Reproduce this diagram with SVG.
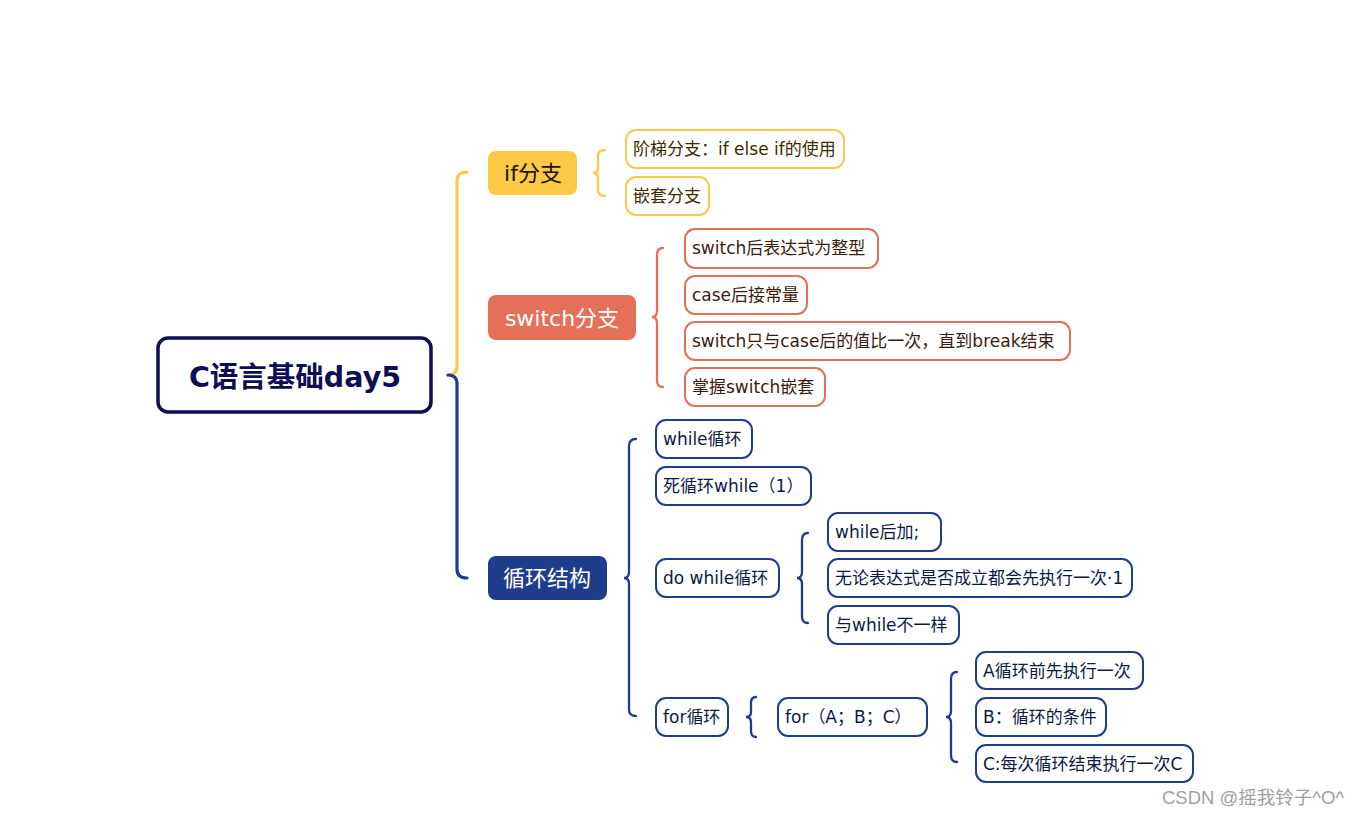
<svg xmlns="http://www.w3.org/2000/svg" width="1363" height="816" viewBox="0 0 1363 816">
<style>
text{font-family:"DejaVu Sans","Noto Sans CJK SC",sans-serif;dominant-baseline:central}
.c{fill:#fff;stroke-width:2}
.y{stroke:#FFC845}.r{stroke:#E5705A}.n{stroke:#1F3D8A}
.ty{fill:#3d2c00;font-size:17px}.tr{fill:#3b1b10;font-size:17px}.tn{fill:#0d1a3f;font-size:17px}
.br{fill:none;stroke-width:2.3;stroke-linecap:round}
.mb{stroke-width:3.2}
.mt{font-size:22px;text-anchor:middle}
</style>
<rect width="1363" height="816" fill="#fff"/>
<g id="connectors">
<path class="br mb" stroke="#FFC845" d="M448 375 Q457 375 457 366 L457 181 Q457 172 467 172"/>
<path class="br mb" stroke="#1F3D8A" d="M448 375 Q457 375 457 384 L457 569 Q457 578 467 578"/>
<path class="br" stroke="#FFC845" d="M605 150 Q598 150 598 156 L598 168 Q598 173 593 173 Q598 173 598 178 L598 190 Q598 196 605 196"/>
<path class="br" stroke="#E5705A" d="M663 248 Q657 248 657 255 L657 311 Q657 317 652 317 Q657 317 657 323 L657 380 Q657 387 663 387"/>
<path class="br" stroke="#1F3D8A" d="M636 439 Q629 439 629 446 L629 572 Q629 578 624 578 Q629 578 629 584 L629 709 Q629 716 636 716"/>
<path class="br" stroke="#1F3D8A" d="M808 533 Q802 533 802 540 L802 572 Q802 578 797 578 Q802 578 802 584 L802 616 Q802 623 808 623"/>
<path class="br" stroke="#1F3D8A" d="M756 697 Q751 697 751 703 L751 712 Q751 717 746 717 Q751 717 751 722 L751 731 Q751 737 756 737"/>
<path class="br" stroke="#1F3D8A" d="M957 672 Q951 672 951 679 L951 711 Q951 717 946 717 Q951 717 951 723 L951 755 Q951 762 957 762"/>
</g>
<g id="root">
<rect x="158" y="338" width="273" height="74" rx="10" fill="#fff" stroke="#0E0E55" stroke-width="3.5"/>
<text x="295" y="377" font-size="28.5" font-weight="bold" fill="#0E0E55" text-anchor="middle">C语言基础day5</text>
</g>
<g id="if">
<rect x="488" y="151" width="89" height="44" rx="8" fill="#FFC845"/>
<text class="mt" x="533" y="173" fill="#1a1200">if分支</text>
</g>
<g id="switch">
<rect x="488" y="295" width="148" height="45" rx="8" fill="#E5705A"/>
<text class="mt" x="562" y="318" fill="#fff">switch分支</text>
</g>
<g id="loop">
<rect x="488" y="556" width="119" height="44" rx="8" fill="#1F3D8A"/>
<text class="mt" x="547" y="578" fill="#fff">循环结构</text>
</g>
<g id="if1"><rect class="c y" x="626" y="130" width="218" height="38" rx="10"/><text class="ty" x="633" y="149">阶梯分支：if else if的使用</text></g>
<g id="if2"><rect class="c y" x="626" y="177" width="83" height="38" rx="10"/><text class="ty" x="633" y="196">嵌套分支</text></g>
<g id="sw1"><rect class="c r" x="685" y="229" width="193" height="39" rx="10"/><text class="tr" x="692" y="248">switch后表达式为整型</text></g>
<g id="sw2"><rect class="c r" x="685" y="276" width="122" height="38" rx="10"/><text class="tr" x="692" y="295">case后接常量</text></g>
<g id="sw3"><rect class="c r" x="685" y="322" width="385" height="38" rx="10"/><text class="tr" x="692" y="341">switch只与case后的值比一次，直到break结束</text></g>
<g id="sw4"><rect class="c r" x="685" y="368" width="140" height="38" rx="10"/><text class="tr" x="692" y="387">掌握switch嵌套</text></g>
<g id="l1"><rect class="c n" x="656" y="420" width="96" height="38" rx="10"/><text class="tn" x="663" y="439">while循环</text></g>
<g id="l2"><rect class="c n" x="656" y="467" width="155" height="38" rx="10"/><text class="tn" x="663" y="486">死循环while（1）</text></g>
<g id="l3"><rect class="c n" x="656" y="559" width="123" height="38" rx="10"/><text class="tn" x="663" y="578">do while循环</text></g>
<g id="l4"><rect class="c n" x="656" y="698" width="72" height="38" rx="10"/><text class="tn" x="663" y="717">for循环</text></g>
<g id="d1"><rect class="c n" x="828" y="513" width="113" height="38" rx="10"/><text class="tn" x="835" y="532">while后加;</text></g>
<g id="d2"><rect class="c n" x="828" y="559" width="304" height="38" rx="10"/><text class="tn" x="835" y="578">无论表达式是否成立都会先执行一次·1</text></g>
<g id="d3"><rect class="c n" x="828" y="606" width="131" height="38" rx="10"/><text class="tn" x="835" y="625">与while不一样</text></g>
<g id="f0"><rect class="c n" x="778" y="698" width="149" height="38" rx="10"/><text class="tn" x="785" y="717">for（A；B；C）</text></g>
<g id="f1"><rect class="c n" x="976" y="652" width="167" height="37" rx="10"/><text class="tn" x="983" y="670.5">A循环前先执行一次</text></g>
<g id="f2"><rect class="c n" x="976" y="698" width="130" height="38" rx="10"/><text class="tn" x="983" y="717">B：循环的条件</text></g>
<g id="f3"><rect class="c n" x="976" y="745" width="217" height="37" rx="10"/><text class="tn" x="983" y="763.5">C:每次循环结束执行一次C</text></g>
<text x="1162" y="797" font-size="18.5" fill="#a0a0a0" style="font-family:'Liberation Sans','Noto Sans CJK SC',sans-serif">CSDN @摇我铃子^O^</text>
</svg>
